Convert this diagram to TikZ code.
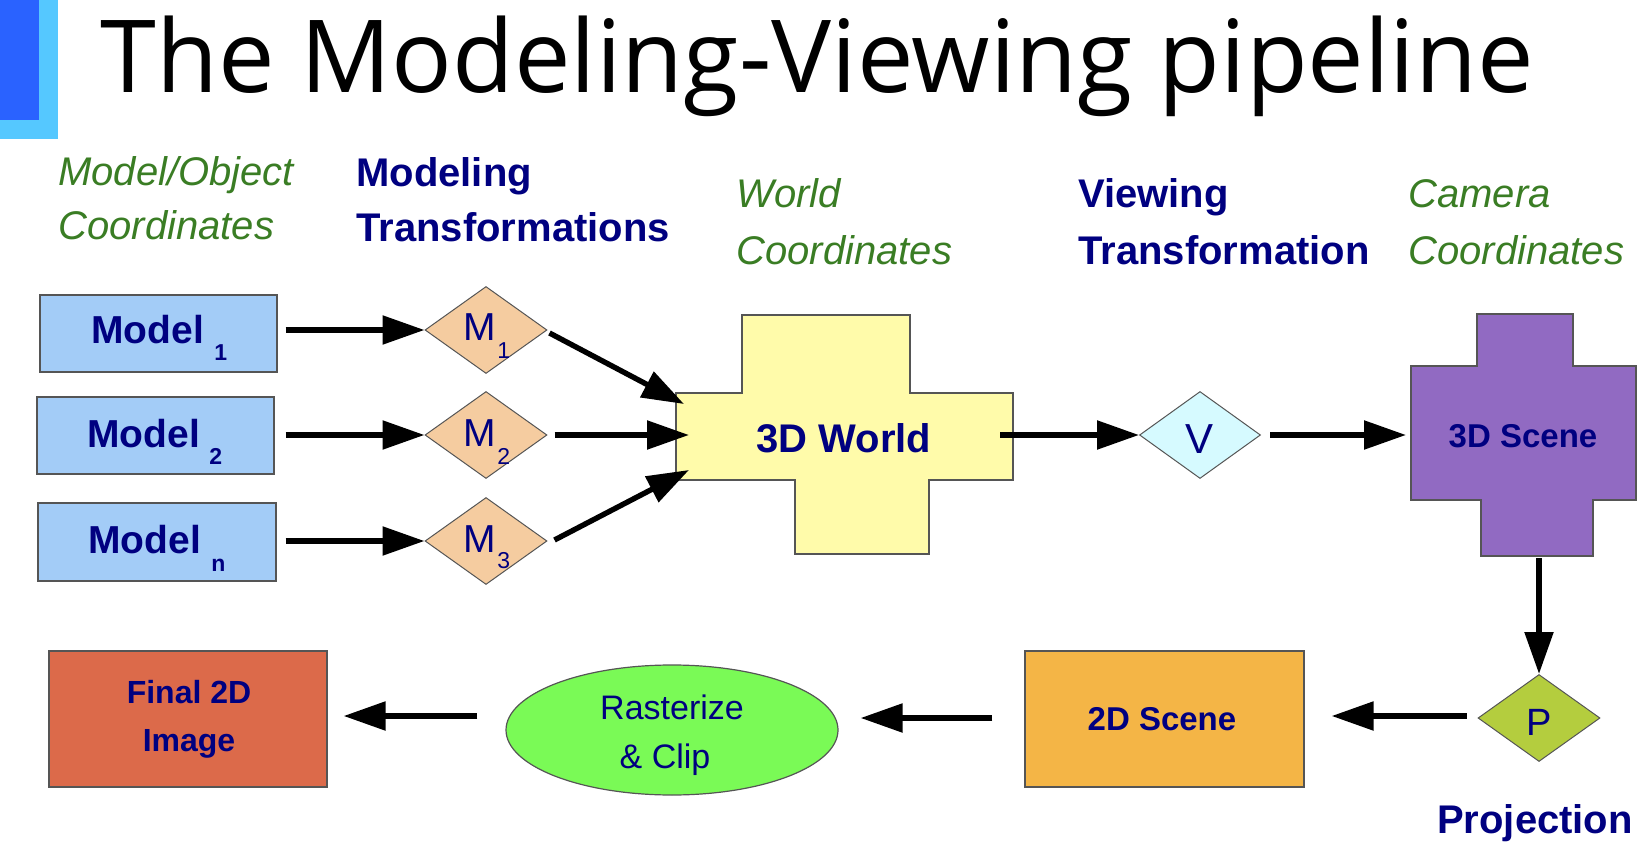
\documentclass[tikz,border=0pt]{standalone}
\usepackage{fontspec}
\setmainfont{Liberation Sans}
\newfontfamily\titlefont{Open Sans}
\usetikzlibrary{shapes.geometric,arrows.meta,calc}
\definecolor{navy}{RGB}{0,0,128}
\definecolor{grn}{RGB}{58,125,36}
\definecolor{bdr}{RGB}{85,85,85}
\definecolor{modelblue}{RGB}{163,204,247}
\definecolor{peach}{RGB}{245,204,160}
\definecolor{worldyellow}{RGB}{255,251,170}
\definecolor{vcyan}{RGB}{214,250,255}
\definecolor{scenepurple}{RGB}{145,106,194}
\definecolor{sceneorange}{RGB}{244,181,70}
\definecolor{finalred}{RGB}{220,106,74}
\definecolor{rastgreen}{RGB}{122,250,86}
\definecolor{pgreen}{RGB}{180,205,62}
\definecolor{bardark}{RGB}{42,98,255}
\definecolor{barlight}{RGB}{85,200,255}
\begin{document}
\begin{tikzpicture}[x=0.5pt,y=-0.5pt,
  txt/.style={inner sep=0pt, anchor=base},
  txtw/.style={inner sep=0pt, anchor=base west},
  greenlbl/.style={txtw, text=grn, font=\fontsize{20pt}{24pt}\selectfont\itshape},
  navylbl/.style={txtw, text=navy, font=\fontsize{20pt}{24pt}\selectfont\bfseries},
  boxshape/.style={draw=bdr, line width=0.6pt, inner sep=0pt, rectangle},
  diam/.style={draw=bdr, line width=0.5pt, diamond, inner sep=0pt, minimum width=61pt, minimum height=43.5pt},
  crossshape/.style={draw=bdr, line width=0.6pt},
  arr/.style={line width=2.7pt, -{Triangle[length=21pt,width=14pt]}},
  bigbold/.style={text=navy, font=\fontsize{19.5pt}{22pt}\selectfont\bfseries},
  subbold/.style={text=navy, font=\fontsize{11.5pt}{13pt}\selectfont\bfseries},
  mreg/.style={text=navy, font=\fontsize{19.5pt}{22pt}\selectfont},
  subreg/.style={text=navy, font=\fontsize{11.5pt}{13pt}\selectfont},
  midbold/.style={text=navy, font=\fontsize{16.5pt}{20pt}\selectfont\bfseries}
]
\useasboundingbox (0,0) rectangle (1648,844);

% header bars
\fill[barlight] (0,0) rectangle (58,139);
\fill[bardark] (0,0) rectangle (39,120);
\node[txtw, font=\titlefont\fontsize{50.4pt}{60pt}\selectfont] (title) at (100,93) {The Modeling-Viewing pipeline};

% column headings
\node[greenlbl] (h1a) at (58,186) {Model/Object};
\node[greenlbl] (h1b) at (58,240) {Coordinates};
\node[navylbl] (h2a) at (356,187) {Modeling};
\node[navylbl] (h2b) at (356,242) {Transformations};
\node[greenlbl] (h3a) at (736,208) {World};
\node[greenlbl] (h3b) at (736,265) {Coordinates};
\node[navylbl] (h4a) at (1078,208) {Viewing};
\node[navylbl] (h4b) at (1078,265) {Transformation};
\node[greenlbl] (h5a) at (1408,208) {Camera};
\node[greenlbl] (h5b) at (1408,265) {Coordinates};

% model boxes
\node[boxshape, fill=modelblue, minimum width=118.5pt, minimum height=38.5pt] (mb1) at (158.5,333.5) {};
\node[boxshape, fill=modelblue, minimum width=118.5pt, minimum height=38.5pt] (mb2) at (155.5,435.5) {};
\node[boxshape, fill=modelblue, minimum width=119pt, minimum height=39pt] (mb3) at (157,542) {};
\node[txtw, bigbold] (mt1) at (91,344) {Model};
\node[txtw, subbold] (ms1) at (214,361) {1};
\node[txtw, bigbold] (mt2) at (87,447) {Model};
\node[txtw, subbold] (ms2) at (209,464) {2};
\node[txtw, bigbold] (mt3) at (88,553) {Model};
\node[txtw, subbold] (ms3) at (211,571) {n};

% M diamonds
\node[diam, fill=peach] (M1) at (486,330) {};
\node[diam, fill=peach] (M2) at (486,435) {};
\node[diam, fill=peach] (M3) at (486,541) {};
\node[txtw, mreg] (M1t) at (463,341) {M};
\node[txtw, subreg] (M1s) at (497,358) {1};
\node[txtw, mreg] (M2t) at (463,446) {M};
\node[txtw, subreg] (M2s) at (497,464) {2};
\node[txtw, mreg] (M3t) at (463,552) {M};
\node[txtw, subreg] (M3s) at (497,568) {3};

\draw[arr] ($(mb1.east |- M1.west)+(8,0)$) -- (M1.west);
\draw[arr] ($(mb2.east |- M2.west)+(11,0)$) -- (M2.west);
\draw[arr] ($(mb3.east |- M3.west)+(9,0)$) -- (M3.west);

% 3D world cross
\draw[crossshape, fill=worldyellow] (742,315) -- (910,315) -- (910,393) -- (1013,393) -- (1013,480) -- (929,480) -- (929,554) -- (795,554) -- (795,480) -- (676,480) -- (676,393) -- (742,393) -- cycle;
\node[txt, text=navy, font=\fontsize{20pt}{24pt}\selectfont\bfseries] (world) at (844,452) {3D World};
\coordinate (w1) at (684,404);
\coordinate (w2) at (689,435);
\coordinate (w3) at (689,470);
\coordinate (wout) at (1000,435);
\draw[arr] ($(M1.east)+(2,3)$) -- (w1);
\draw[arr] ($(M2.east)+(7,0)$) -- (w2);
\draw[arr] ($(M3.east)+(7,-1)$) -- (w3);

% V
\node[diam, fill=vcyan, minimum width=60.5pt] (V) at (1200,435) {};
\node[txt, text=navy, font=\fontsize{21pt}{24pt}\selectfont] (Vt) at (1199,453) {V};
\draw[arr] (wout) -- (V.west);

% 3D scene cross
\draw[crossshape, fill=scenepurple] (1477,314) -- (1573,314) -- (1573,366) -- (1636,366) -- (1636,500) -- (1593,500) -- (1593,556) -- (1481,556) -- (1481,500) -- (1411,500) -- (1411,366) -- (1477,366) -- cycle;
\node[txt, midbold] (scene) at (1523,447) {3D Scene};
\coordinate (sin) at (1406,435);
\coordinate (sout) at (1539,558);
\draw[arr] ($(V.east)+(9,0)$) -- (sin);

% P
\node[diam, fill=pgreen] (P) at (1539,718) {};
\node[txt, text=navy, font=\fontsize{19pt}{22pt}\selectfont] (Pt) at (1539,735) {P};
\draw[arr] (sout) -- (P.north);
\node[txt, text=navy, font=\fontsize{20pt}{24pt}\selectfont\bfseries] (proj) at (1535,833) {Projection};

% 2D scene
\node[boxshape, fill=sceneorange, minimum width=139.5pt, minimum height=68pt] (s2d) at (1164.5,719) {};
\node[txt, midbold] (s2dt) at (1162,730) {2D Scene};
\draw[arr] ($(P.west)+(-11,-2)$) -- ($(s2d.east)+(27,-3)$);

% rasterize
\node[draw=bdr, line width=0.6pt, ellipse, fill=rastgreen, inner sep=0pt, minimum width=166pt, minimum height=65pt] (rast) at (672,730) {};
\node[txt, text=navy, font=\fontsize{17pt}{20pt}\selectfont] (rast1) at (672,719) {Rasterize};
\node[txt, text=navy, font=\fontsize{17pt}{20pt}\selectfont] (rast2) at (665,768) {\& Clip};
\draw[arr] ($(s2d.west)+(-32,-1)$) -- ($(rast.east)+(22,-12)$);

% final image
\node[boxshape, fill=finalred, minimum width=139pt, minimum height=68pt] (final) at (188,719) {};
\node[txt, text=navy, font=\fontsize{16pt}{20pt}\selectfont\bfseries] (fin1) at (189,703) {Final 2D};
\node[txt, text=navy, font=\fontsize{16pt}{20pt}\selectfont\bfseries] (fin2) at (189,751) {Image};
\draw[arr] ($(rast.west)+(-28,-14)$) -- ($(final.east)+(16,-3)$);
\end{tikzpicture}
\end{document}
